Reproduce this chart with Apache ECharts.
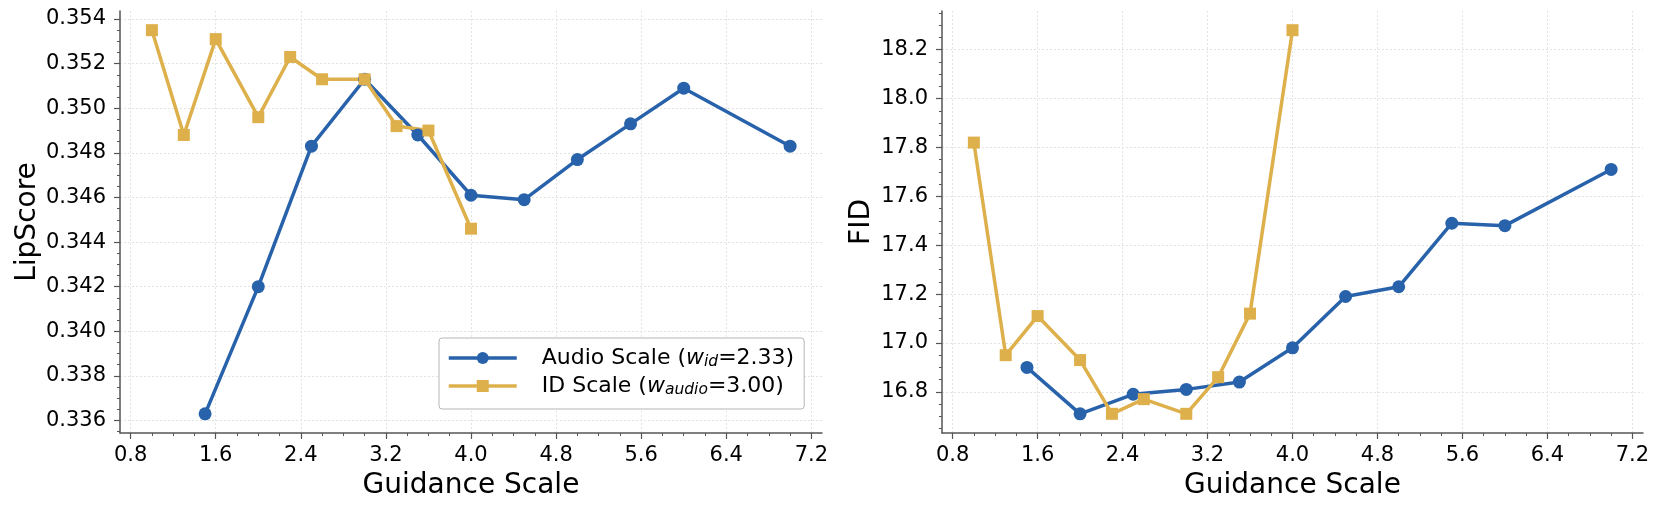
<!DOCTYPE html>
<html>
<head>
<meta charset="utf-8">
<script src="https://cdn.jsdelivr.net/npm/echarts@6/dist/echarts.min.js"></script>
<style>
html,body{margin:0;padding:0;background:#fff;}
#chart{width:1660px;height:512px;}
</style>
</head>
<body>
<div id="chart"></div>
<script>
// ---- data ----
const xTicks = [0.8, 1.6, 2.4, 3.2, 4.0, 4.8, 5.6, 6.4, 7.2];
const lipTicks = [0.336, 0.338, 0.340, 0.342, 0.344, 0.346, 0.348, 0.350, 0.352, 0.354];
const fidTicks = [16.8, 17.0, 17.2, 17.4, 17.6, 17.8, 18.0, 18.2];

const audioX = [1.5, 2.0, 2.5, 3.0, 3.5, 4.0, 4.5, 5.0, 5.5, 6.0, 7.0];
const idX = [1.0, 1.3, 1.6, 2.0, 2.3, 2.6, 3.0, 3.3, 3.6, 4.0];

const audioLip = [0.3363, 0.3420, 0.3483, 0.3513, 0.3488, 0.3461, 0.3459, 0.3477, 0.3493, 0.3509, 0.3483];
const idLip = [0.3535, 0.3488, 0.3531, 0.3496, 0.3523, 0.3513, 0.3513, 0.3492, 0.3490, 0.3446];

const audioFid = [16.90, 16.71, 16.79, 16.81, 16.84, 16.98, 17.19, 17.23, 17.49, 17.48, 17.71];
const idFid = [17.82, 16.95, 17.11, 16.93, 16.71, 16.77, 16.71, 16.86, 17.12, 18.28];

const audioName = 'Audio Scale (w_id=2.33)';
const idName = 'ID Scale (w_audio=3.00)';

// ---- helpers ----
const BLUE = '#2862aa';
const GOLD = '#deb04c';
const FONT = 'DejaVu Sans';

function pairs(xs, ys) { return xs.map((x, i) => [x, ys[i]]); }
function padRange(arrs) {
  const all = [].concat(...arrs);
  const mn = Math.min(...all), mx = Math.max(...all);
  const p = (mx - mn) * 0.05;
  return [mn - p, mx + p];
}
function minors(majors, lo, hi) {
  const step = (majors[1] - majors[0]) / 4;
  const out = [];
  let v = majors[0];
  while (v - step >= lo) v -= step;
  for (; v <= hi + 1e-12; v += step) out.push(Math.round(v * 1e7) / 1e7);
  return out;
}

const xr = padRange([audioX, idX]);
const lr = padRange([audioLip, idLip]);
const fr = padRange([audioFid, idFid]);

const axisCol = '#555';
const gridLine = { show: true, lineStyle: { color: '#e3e3e3', width: 1, type: [2, 2] } };

function mainX(gi) {
  return {
    type: 'value', gridIndex: gi, position: 'bottom', min: xr[0], max: xr[1],
    name: 'Guidance Scale', nameLocation: 'middle', nameGap: 39,
    nameTextStyle: { fontFamily: FONT, fontSize: 28, color: '#000' },
    axisLine: { show: true, onZero: false, lineStyle: { color: axisCol, width: 1.5 } },
    axisTick: { show: true, customValues: xTicks, length: 6, lineStyle: { color: axisCol, width: 1.2 } },
    axisLabel: { show: true, customValues: xTicks, margin: 12, fontFamily: FONT, fontSize: 21, color: '#000',
      formatter: v => Number(v).toFixed(1) },
    splitLine: gridLine
  };
}
function minorX(gi) {
  return {
    type: 'value', gridIndex: gi, position: 'bottom', min: xr[0], max: xr[1],
    axisLine: { show: false, onZero: false },
    axisTick: { show: true, customValues: minors(xTicks, xr[0], xr[1]), length: 3, lineStyle: { color: axisCol, width: 1 } },
    axisLabel: { show: false }, splitLine: { show: false }
  };
}
function mainY(gi, ticks, rng, name, gap, dec) {
  return {
    type: 'value', gridIndex: gi, position: 'left', min: rng[0], max: rng[1],
    name: name, nameLocation: 'middle', nameGap: gap,
    nameTextStyle: { fontFamily: FONT, fontSize: 28, color: '#000' },
    axisLine: { show: true, onZero: false, lineStyle: { color: axisCol, width: 1.5 } },
    axisTick: { show: true, customValues: ticks, length: 6, lineStyle: { color: axisCol, width: 1.2 } },
    axisLabel: { show: true, customValues: ticks, margin: 14, fontFamily: FONT, fontSize: 21, color: '#000',
      formatter: v => Number(v).toFixed(dec) },
    splitLine: gridLine
  };
}
function minorY(gi, ticks, rng) {
  return {
    type: 'value', gridIndex: gi, position: 'left', min: rng[0], max: rng[1],
    axisLine: { show: false, onZero: false },
    axisTick: { show: true, customValues: minors(ticks, rng[0], rng[1]), length: 3, lineStyle: { color: axisCol, width: 1 } },
    axisLabel: { show: false }, splitLine: { show: false }
  };
}
function lineSeries(name, data, xi, yi, color, symbol, size) {
  return {
    name: name, type: 'line', data: data, xAxisIndex: xi, yAxisIndex: yi,
    symbol: symbol, symbolSize: size, showSymbol: true,
    lineStyle: { color: color, width: 3.5 },
    itemStyle: { color: color, borderWidth: 0 },
    emphasis: { disabled: true }, animation: false
  };
}

const chart = echarts.init(document.getElementById('chart'), null, { renderer: 'canvas' });
chart.setOption({
  animation: false,
  backgroundColor: '#fff',
  grid: [
    { left: 120, top: 11, width: 702, height: 422, outerBoundsMode: 'none' },
    { left: 942, top: 11, width: 701, height: 422, outerBoundsMode: 'none' }
  ],
  xAxis: [mainX(0), minorX(0), mainX(1), minorX(1)],
  yAxis: [
    mainY(0, lipTicks, lr, 'LipScore', 78, 3), minorY(0, lipTicks, lr),
    mainY(1, fidTicks, fr, 'FID', 66, 1), minorY(1, fidTicks, fr)
  ],
  legend: {
    data: [audioName, idName],
    orient: 'vertical', left: 439, top: 338,
    padding: [9, 10, 11, 8], itemGap: 5,
    itemWidth: 68, itemHeight: 15,
    backgroundColor: '#fff', borderColor: '#b5b5b5', borderWidth: 1, borderRadius: 3,
    selectedMode: false,
    lineStyle: { width: 3.5 },
    formatter: function (name) {
      return name === audioName
        ? '{a|Audio Scale (}{w|w}{s|id}{n|=2.33)}'
        : '{a|ID Scale (}{w|w}{s|audio}{n|=3.00)}';
    },
    textStyle: {
      fontFamily: FONT, fontSize: 22, color: '#000',
      rich: {
        a: { fontFamily: FONT, fontSize: 22, color: '#000', padding: [0, 0, 0, 20] },
        n: { fontFamily: FONT, fontSize: 22, color: '#000' },
        w: { fontFamily: FONT, fontSize: 22, color: '#000', fontStyle: 'italic' },
        s: { fontFamily: FONT, fontSize: 15.5, color: '#000', fontStyle: 'italic', padding: [8, 0, 0, 0] }
      }
    }
  },
  series: [
    lineSeries(audioName, pairs(audioX, audioLip), 0, 0, BLUE, 'circle', 13),
    lineSeries(idName, pairs(idX, idLip), 0, 0, GOLD, 'rect', 12),
    lineSeries(audioName, pairs(audioX, audioFid), 2, 2, BLUE, 'circle', 13),
    lineSeries(idName, pairs(idX, idFid), 2, 2, GOLD, 'rect', 12)
  ]
});
</script>
</body>
</html>
